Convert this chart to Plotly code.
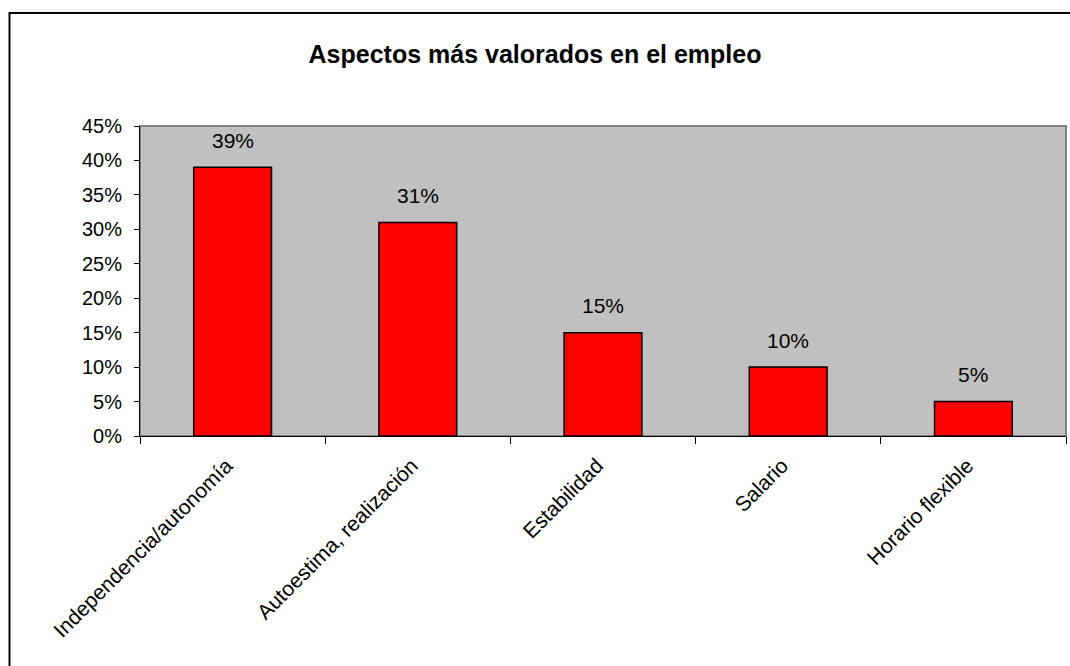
import plotly.graph_objects as go

categorias = ["Independencia/autonomía", "Autoestima, realización", "Estabilidad",
              "Salario", "Horario flexible"]
valores = [0.39, 0.31, 0.15, 0.10, 0.05]
etiquetas = ["39%", "31%", "15%", "10%", "5%"]
ticks_y = [0, 0.05, 0.10, 0.15, 0.20, 0.25, 0.30, 0.35, 0.40, 0.45]

FONT = "Liberation Sans, Arial, sans-serif"

fig = go.Figure()
fig.add_trace(go.Bar(
    x=categorias,
    y=valores,
    width=0.42,
    marker=dict(color="#FF0000", line=dict(color="#000000", width=1.5)),
    hoverinfo="skip",
))

# value labels above bars
for c, v, t in zip(categorias, valores, etiquetas):
    fig.add_annotation(x=c, y=v, text=t, showarrow=False, yshift=27,
                       yanchor="middle", font=dict(size=21, color="#000000", family=FONT))

fig.update_layout(
    width=1070, height=666,
    margin=dict(l=140, r=4, t=126, b=230),
    paper_bgcolor="white",
    plot_bgcolor="#C0C0C0",
    showlegend=False,
    font=dict(family=FONT, color="#000000"),
    title=dict(text="<b>Aspectos más valorados en el empleo</b>", x=0.5, xanchor="center",
               y=1 - 54 / 666, yanchor="middle", font=dict(size=25, family=FONT)),
)
fig.update_xaxes(
    showline=True, linecolor="#000000", linewidth=1,
    ticks="outside", tickson="boundaries", ticklen=7, tickcolor="#000000",
    tickangle=-45, tickfont=dict(size=21), showgrid=False,
    ticklabelshift=-6, ticklabelstandoff=8,
)
fig.update_yaxes(
    range=[0, 0.45], tickvals=ticks_y, tickformat=".0%",
    showline=True, linecolor="#000000", linewidth=1,
    ticks="outside", ticklen=5, tickcolor="#000000",
    tickfont=dict(size=20), showgrid=False, zeroline=False,
    ticklabelstandoff=8,
)

# gray frame of plot area (top/right visible)
fig.add_shape(type="rect", xref="paper", yref="paper", x0=0, x1=1, y0=0, y1=1,
              line=dict(color="#808080", width=2), layer="below")
# outer chart border
fig.add_shape(type="rect", xref="paper", yref="paper",
              x0=-130.5 / 926, x1=1.2, y0=-1.0, y1=(436 - 13) / 310,
              line=dict(color="#000000", width=2), layer="above")

fig.write_html("out.html", config={"displayModeBar": False},
               post_script="document.body.style.margin='0';")
